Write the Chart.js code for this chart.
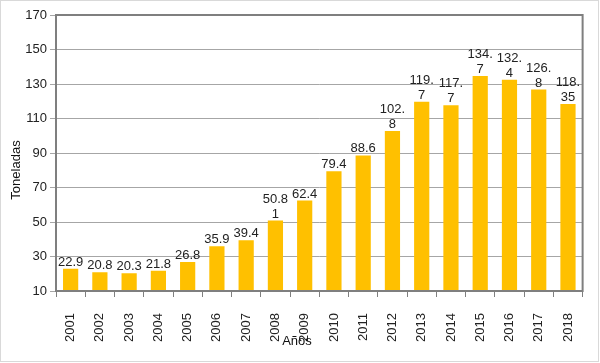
<!DOCTYPE html>
<html>
<head>
<meta charset="utf-8">
<script src="https://cdn.jsdelivr.net/npm/chart.js@4"></script>
<style>
  body { margin: 0; background: #fff; }
  #chart { display: block; }
</style>
</head>
<body>
<canvas id="chart" width="600" height="363"></canvas>
<script>
const years = ['2001', '2002', '2003', '2004', '2005', '2006', '2007', '2008', '2009',
  '2010', '2011', '2012', '2013', '2014', '2015', '2016', '2017', '2018'];
const toneladas = [22.9, 20.8, 20.3, 21.8, 26.8, 35.9, 39.4, 50.81, 62.4,
  79.4, 88.6, 102.8, 119.7, 117.7, 134.7, 132.4, 126.8, 118.35];
const yTicks = { min: 10, max: 170, step: 20 };

const FONT = 'Liberation Sans, Arial, sans-serif';

// labels in the original wrap after 4 characters ("134.7" -> "134." / "7")
function wrapLabel(v) {
  const s = String(v);
  const parts = [];
  for (let i = 0; i < s.length; i += 4) parts.push(s.slice(i, i + 4));
  return parts;
}

const extras = {
  id: 'extras',
  beforeDraw(chart) {
    const ctx = chart.ctx;
    ctx.save();
    ctx.fillStyle = '#fff';
    ctx.fillRect(0, 0, chart.width, chart.height);
    ctx.restore();
  },
  afterDraw(chart) {
    const ctx = chart.ctx;
    const a = chart.chartArea;
    ctx.save();
    // plot frame
    ctx.strokeStyle = '#7f7f7f';
    ctx.lineWidth = 2;
    ctx.strokeRect(a.left, a.top, a.right - a.left, a.bottom - a.top);
    // outer border
    ctx.strokeStyle = '#d9d9d9';
    ctx.lineWidth = 1;
    ctx.strokeRect(0.5, 0.5, 598, 361);

    // bar value labels
    ctx.fillStyle = '#222';
    ctx.font = '13px ' + FONT;
    ctx.textAlign = 'center';
    ctx.textBaseline = 'alphabetic';
    const meta = chart.getDatasetMeta(0);
    meta.data.forEach((bar, i) => {
      const lines = wrapLabel(toneladas[i]);
      let y = bar.y - 3;
      for (let j = lines.length - 1; j >= 0; j--) {
        ctx.fillText(lines[j], bar.x, y);
        y -= 15;
      }
    });

    // axis titles
    ctx.fillStyle = '#111';
    ctx.font = '13px ' + FONT;
    ctx.textBaseline = 'middle';
    ctx.fillText('Años', 297, 341);
    ctx.translate(16, 170);
    ctx.rotate(-Math.PI / 2);
    ctx.fillText('Toneladas', 0, 0);
    ctx.restore();
  }
};

new Chart(document.getElementById('chart').getContext('2d'), {
  type: 'bar',
  data: {
    labels: years,
    datasets: [{
      data: toneladas,
      backgroundColor: '#ffc000',
      borderWidth: 0,
      barPercentage: 0.52,
      categoryPercentage: 1
    }]
  },
  options: {
    responsive: false,
    animation: false,
    layout: { padding: { top: 15, right: 15, left: 0, bottom: 0 } },
    plugins: {
      legend: { display: false },
      tooltip: { enabled: false }
    },
    scales: {
      x: {
        afterFit: s => { s.height = 72; },
        grid: {
          drawOnChartArea: false,
          color: '#7f7f7f',
          tickLength: 6
        },
        border: { color: '#7f7f7f', width: 2 },
        ticks: {
          color: '#222',
          font: { family: FONT, size: 13 },
          minRotation: 90,
          maxRotation: 90,
          padding: 16
        }
      },
      y: {
        min: yTicks.min,
        max: yTicks.max,
        afterFit: s => { s.width = 56; },
        grid: {
          color: '#a6a6a6',
          tickLength: 6
        },
        border: { color: '#7f7f7f', width: 2 },
        ticks: {
          stepSize: yTicks.step,
          color: '#222',
          font: { family: FONT, size: 13 },
          padding: 3
        }
      }
    }
  },
  plugins: [extras]
});
</script>
</body>
</html>
